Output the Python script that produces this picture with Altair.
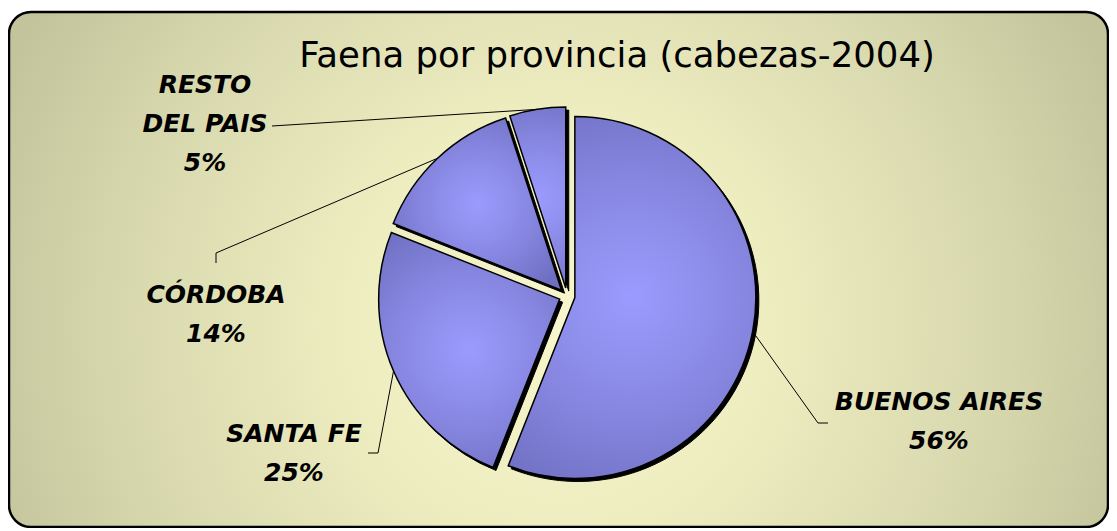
import altair as alt
import pandas as pd

# ---- data ----
provincias = ["BUENOS AIRES", "SANTA FE", "CÓRDOBA", "RESTO DEL PAIS"]
etiquetas = ["BUENOS AIRES", "SANTA FE", "CÓRDOBA", "RESTO|DEL PAIS"]
porcentajes = [56, 25, 14, 5]
titulo = "Faena por provincia (cabezas-2004)"

# ---- layout (chart pixels) ----
W, H = 1101, 520
CX, CY, R, EXPLODE = 559, 288, 181, 8
SHADOW = 3
# first-line centre of label, leader elbow, leader end
layout = {
    "BUENOS AIRES":   dict(tx=931, ty=394, ex=810, ey=415, lx=820, ly=415),
    "SANTA FE":       dict(tx=286, ty=426, ex=370, ey=445, lx=360, ly=445),
    "CÓRDOBA":        dict(tx=208, ty=287, ex=208, ey=245, lx=208, ly=255),
    "RESTO DEL PAIS": dict(tx=197, ty=77, ex=264, ey=118, lx=264, ly=118),
}

df = pd.DataFrame({"provincia": provincias, "etiqueta": etiquetas,
                   "v": porcentajes, "idx": range(len(provincias))})
for k in ["tx", "ty", "ex", "ey", "lx", "ly"]:
    df[k] = [layout[p][k] for p in provincias]

base = (
    alt.Chart(df)
    .transform_joinaggregate(total="sum(v)")
    .transform_window(cum="sum(v)", sort=[{"field": "idx"}], frame=[None, 0])
    .transform_calculate(
        a1="datum.cum / datum.total * 2 * PI",
        a0="(datum.cum - datum.v) / datum.total * 2 * PI",
    )
    .transform_calculate(mid="(datum.a0 + datum.a1) / 2")
    .transform_calculate(
        cx=f"{CX} + {EXPLODE} * sin(datum.mid)",
        cy=f"{CY} - {EXPLODE} * cos(datum.mid)",
    )
    .transform_calculate(
        ax=f"datum.cx + {R} * sin(datum.mid)",
        ay=f"datum.cy - {R} * cos(datum.mid)",
        sx=f"datum.cx + {SHADOW}",
        sy=f"datum.cy + {SHADOW}",
        txt="datum.etiqueta + '|' + round(datum.v / datum.total * 100) + '%'",
    )
)

def px(f):
    return alt.X(f + ":Q", scale=None, axis=None)

def py(f):
    return alt.Y(f + ":Q", scale=None, axis=None)

one = alt.Data(values=[{"a": 1}])

bg = alt.Chart(one).mark_rect(
    cornerRadius=22,
    stroke="black",
    strokeWidth=2.5,
    fill={
        "gradient": "radial",
        "x1": 0.5, "y1": 0.55, "r1": 0,
        "x2": 0.5, "y2": 0.55, "r2": 0.55,
        "stops": [
            {"offset": 0, "color": "#f7f6cc"},
            {"offset": 0.35, "color": "#eeedc0"},
            {"offset": 0.75, "color": "#d6d6ad"},
            {"offset": 1, "color": "#c4c49c"},
        ],
    },
).encode(x=alt.value(1), x2=alt.value(W - 1), y=alt.value(4), y2=alt.value(H - 1))

shadow = base.mark_arc(radius=R, fill="black", stroke="black", strokeWidth=1).encode(
    theta=alt.Theta("a0:Q", scale=None, stack=None),
    theta2=alt.Theta2("a1:Q"),
    x=px("sx"), y=py("sy"),
    order=alt.Order("idx:Q"),
)

slices = base.mark_arc(
    radius=R,
    stroke="black",
    strokeWidth=1.5,
    fill={
        "gradient": "radial",
        "x1": 0.5, "y1": 0.5, "r1": 0,
        "x2": 0.5, "y2": 0.5, "r2": 0.6,
        "stops": [
            {"offset": 0, "color": "#9b9bff"},
            {"offset": 0.55, "color": "#8686e0"},
            {"offset": 1, "color": "#6f6fc2"},
        ],
    },
).encode(
    theta=alt.Theta("a0:Q", scale=None, stack=None),
    theta2=alt.Theta2("a1:Q"),
    x=px("cx"), y=py("cy"),
    order=alt.Order("idx:Q"),
)

lead1 = base.mark_rule(color="black", strokeWidth=1).encode(
    x=px("ax"), y=py("ay"), x2=alt.X2("ex:Q"), y2=alt.Y2("ey:Q")
)
lead2 = base.mark_rule(color="black", strokeWidth=1).encode(
    x=px("ex"), y=py("ey"), x2=alt.X2("lx:Q"), y2=alt.Y2("ly:Q")
)

labels = base.mark_text(
    font="DejaVu Sans",
    fontWeight="bold",
    fontStyle="italic",
    fontSize=25,
    lineBreak="|",
    lineHeight=39,
    align="center",
    baseline="middle",
    color="black",
).encode(x=px("tx"), y=py("ty"), text="txt:N")

title = alt.Chart(one).mark_text(
    text=titulo,
    font="DejaVu Sans",
    fontSize=35.5,
    align="center",
    baseline="alphabetic",
    color="black",
).encode(x=alt.value(609), y=alt.value(59))

chart = alt.layer(bg, shadow, slices, lead1, lead2, labels, title).properties(
    width=W, height=H, padding=0, autosize=alt.AutoSizeParams(type="none")
).configure_view(stroke=None)

chart.save("out.html", embed_options={"renderer": "svg", "actions": False})
